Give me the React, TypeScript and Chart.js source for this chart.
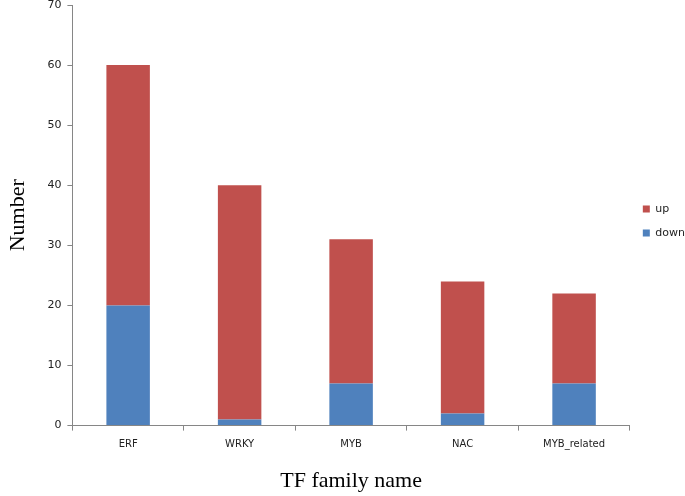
import React, { useEffect, useRef } from "react";
import { Chart, registerables } from "chart.js";

Chart.register(...registerables);

const categories = ["ERF", "WRKY", "MYB", "NAC", "MYB_related"];
const downValues = [20, 1, 7, 2, 7];
const upValues = [40, 39, 24, 22, 15];
const yTicks = [0, 10, 20, 30, 40, 50, 60, 70];

const legendShift = {
  id: "legendShift",
  afterLayout(chart: any) {
    const lg = chart.legend;
    if (lg) {
      lg.top -= 26;
      lg.bottom -= 26;
    }
  },
};

export default function App() {
  const ref = useRef<HTMLCanvasElement>(null);
  useEffect(() => {
    document.body.style.margin = "0";
    const ctx = ref.current!;
    const chart = new Chart(ctx, {
      type: "bar",
      data: {
        labels: categories,
        datasets: [
          { label: "down", data: downValues, backgroundColor: "#4F81BD", barPercentage: 0.39, categoryPercentage: 1 },
          { label: "up", data: upValues, backgroundColor: "#C0504D", barPercentage: 0.39, categoryPercentage: 1 },
        ],
      },
      plugins: [legendShift],
      options: {
        animation: false,
        responsive: false,
        devicePixelRatio: 1,
        layout: { padding: { top: 0, right: -10, bottom: 2, left: 5 } },
        plugins: {
          tooltip: { enabled: false },
          legend: {
            position: "right",
            reverse: true,
            labels: {
              boxWidth: 7,
              boxHeight: 7,
              padding: 13,
              color: "#222",
              font: { family: "DejaVu Sans", size: 11 },
            },
          },
        },
        scales: {
          x: {
            stacked: true,
            grid: { display: true, drawOnChartArea: false, drawTicks: true, tickLength: 5, color: "#868686", offset: true },
            border: { color: "#868686" },
            ticks: { color: "#222", font: { family: "DejaVu Sans", size: 10 }, padding: 8 },
            title: {
              display: true,
              text: "TF family name",
              color: "#000",
              font: { family: "Liberation Serif", size: 22 },
              padding: { top: 9, bottom: 0 },
            },
          },
          y: {
            stacked: true,
            min: 0,
            max: 70,
            afterBuildTicks: (axis: any) => {
              axis.ticks = yTicks.map((v) => ({ value: v }));
            },
            afterFit: (scale: any) => {
              scale.paddingTop = 5;
            },
            grid: { display: true, drawOnChartArea: false, drawTicks: true, tickLength: 5, color: "#868686" },
            border: { color: "#868686" },
            ticks: { color: "#222", font: { family: "DejaVu Sans", size: 11 }, padding: 6 },
            title: {
              display: true,
              text: "Number",
              color: "#000",
              font: { family: "Liberation Serif", size: 22 },
              padding: { top: 0, bottom: 10 },
            },
          },
        },
      },
    });
    return () => chart.destroy();
  }, []);
  return (
    <div style={{ width: 685, height: 496 }}>
      <canvas ref={ref} width={685} height={496} style={{ width: 685, height: 496, display: "block" }} />
    </div>
  );
}
